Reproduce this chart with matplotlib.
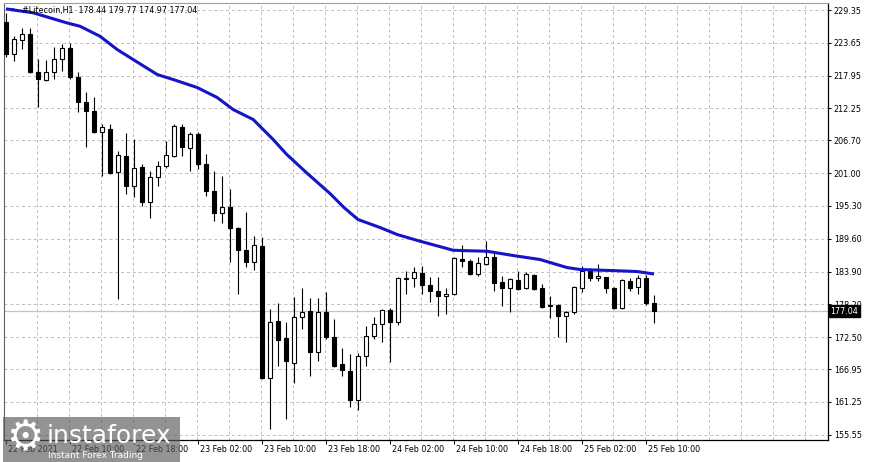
import matplotlib
matplotlib.use("Agg")
import matplotlib.pyplot as plt
import matplotlib.transforms as mtransforms
from matplotlib.patches import Rectangle
import numpy as np

# Litecoin H1 candles (oldest first)
opens = [227.26, 221.70, 224.14, 225.18, 218.57, 217.27, 218.57, 220.83, 222.75, 217.71,
         213.36, 211.80, 208.15, 208.67, 201.20, 203.98, 198.76, 202.06, 195.98, 200.33,
         202.24, 203.98, 209.02, 205.37, 207.80, 202.59, 197.89, 194.07, 195.11, 191.46,
         187.64, 185.56, 188.34, 165.40, 175.30, 172.35, 168.00, 176.00, 177.04, 169.92,
         176.87, 172.52, 167.83, 166.61, 161.57, 169.22, 172.70, 174.78, 177.21, 175.13,
         182.60, 182.78, 183.64, 181.56, 180.52, 179.65, 179.99, 186.08, 185.73, 183.47,
         185.21, 186.42, 182.08, 181.04, 182.43, 181.04, 183.30, 181.04, 177.91, 178.08,
         176.17, 176.88, 181.09, 184.01, 182.85, 183.02, 181.09, 177.59, 182.25, 181.27,
         182.72, 178.44]
highs = [228.83, 224.83, 226.22, 226.22, 220.83, 220.66, 222.92, 223.44, 223.61, 218.57,
         215.10, 214.23, 209.54, 209.54, 204.85, 207.97, 206.93, 202.59, 201.37, 203.11,
         206.58, 209.54, 209.54, 208.15, 208.15, 204.32, 201.37, 200.50, 198.24, 191.64,
         194.24, 190.07, 189.90, 177.39, 178.43, 175.13, 179.47, 181.04, 179.30, 179.30,
         180.34, 175.65, 170.61, 169.57, 169.74, 174.43, 176.00, 177.39, 177.56, 182.90,
         183.99, 184.69, 184.86, 182.95, 182.95, 181.04, 186.42, 188.51, 186.08, 186.42,
         189.21, 187.29, 183.12, 182.78, 183.99, 183.82, 183.47, 181.73, 179.65, 178.26,
         177.04, 181.44, 184.78, 184.48, 185.18, 183.02, 181.27, 182.60, 182.72, 183.30,
         183.30, 179.77]
lows = [221.18, 220.49, 222.57, 218.40, 212.49, 217.01, 217.36, 218.75, 217.36, 211.62,
        205.54, 207.97, 200.50, 200.85, 179.13, 197.37, 196.85, 195.29, 193.20, 198.76,
        201.89, 203.80, 203.98, 201.37, 201.72, 197.03, 192.68, 192.33, 185.56, 179.99,
        184.69, 184.17, 165.22, 156.53, 167.48, 158.27, 164.53, 173.91, 165.75, 168.35,
        172.17, 167.31, 165.75, 160.36, 159.84, 167.48, 172.17, 171.65, 168.18, 174.61,
        179.99, 181.21, 179.99, 178.60, 176.17, 176.52, 179.82, 184.69, 183.30, 183.12,
        185.04, 180.52, 177.91, 176.87, 180.69, 180.86, 180.69, 177.56, 175.82, 172.52,
        171.65, 176.59, 180.39, 182.25, 182.25, 180.09, 177.34, 177.46, 180.50, 179.92,
        178.16, 174.97]
closes = [221.70, 224.31, 225.18, 218.57, 217.36, 218.57, 220.83, 222.75, 217.71, 213.36,
          211.80, 208.15, 209.02, 201.02, 204.15, 198.76, 201.89, 195.98, 200.33, 202.24,
          204.15, 209.19, 205.54, 207.80, 202.59, 197.89, 194.07, 195.11, 191.46, 187.64,
          185.56, 188.51, 165.40, 175.13, 172.00, 168.35, 176.00, 176.87, 169.92, 176.87,
          172.52, 167.48, 166.79, 161.57, 169.22, 172.70, 174.78, 177.21, 175.13, 182.78,
          182.78, 183.82, 181.56, 180.52, 179.65, 179.99, 186.25, 185.73, 183.47, 185.38,
          186.42, 181.91, 181.04, 182.60, 180.86, 183.47, 180.86, 177.74, 178.08, 176.17,
          176.87, 181.27, 184.01, 182.72, 183.20, 180.97, 177.59, 182.43, 180.97, 182.72,
          178.44, 177.04]

# moving average (blue line), read at these bar positions
ma_idx = [0, 3.4, 7.6, 9.25, 11.75, 13.9, 15.9, 18.9, 20.9, 23.9, 26.4, 28.4, 30.9,
          33.4, 35.1, 37.75, 40.5, 42.25, 44, 46.75, 48.9, 51.75, 55.9, 58, 60.1, 63.4,
          66.75, 70.1, 71.75, 75.5, 78.9, 81]
ma_vals = [229.55, 228.86, 227.12, 226.53, 224.79, 222.48, 220.74, 218.14, 217.27, 215.88,
           214.14, 212.05, 210.32, 206.84, 204.24, 200.84, 197.46, 195.02, 192.94, 191.55,
           190.33, 189.17, 187.60, 187.50, 187.43, 186.68, 185.99, 184.60, 184.25, 184.08,
           183.90, 183.47]

last_price = 177.04
header = "#Litecoin,H1  178.44 179.77 174.97 177.04"

price_ticks = [229.35, 223.65, 217.95, 212.25, 206.70, 201.00, 195.30,
               189.60, 183.90, 178.20, 172.50, 166.95, 161.25, 155.55]
time_idx = [0, 8, 16, 24, 32, 40, 48, 56, 64, 72, 80]
time_labels = ["22 Feb 2021", "22 Feb 10:00", "22 Feb 18:00", "23 Feb 02:00",
               "23 Feb 10:00", "23 Feb 18:00", "24 Feb 02:00", "24 Feb 10:00",
               "24 Feb 18:00", "25 Feb 02:00", "25 Feb 10:00"]

plt.rcParams['font.family'] = ['DejaVu Sans']
fs = 5.8

fig = plt.figure(figsize=(8.72, 4.62), dpi=100)
ax = fig.add_axes([4/872, 22/462, 824/872, 437/462])

o = np.array(opens)
h = np.array(highs)
l = np.array(lows)
c = np.array(closes)
x = np.arange(len(o))
up = c >= o

# grid
grid_style = dict(color='#bcbcbc', lw=0.7, linestyle=(0, (3, 3)), zorder=0)
for gx in range(4, 104, 4):
    ax.axvline(gx - 0.1, **grid_style)
for gy in price_ticks:
    ax.axhline(gy, **grid_style)

ax.axhline(last_price, color='#c4c4c4', lw=0.9, zorder=1)

# candles
ax.vlines(x, l, h, color='black', lw=0.8, zorder=3)
body_bottom = np.minimum(o, c)
body_h = np.maximum(np.abs(c - o), 0.12)
ax.bar(x, body_h, bottom=body_bottom, width=0.62,
       color=np.where(up, 'white', 'black'), edgecolor='black', linewidth=0.8, zorder=4)

ax.plot(ma_idx, ma_vals, color='#1414c8', lw=2.2, solid_capstyle='butt',
        solid_joinstyle='round', zorder=5)

ax.set_xlim(-0.25, 102.75)
ax.set_ylim(154.62, 230.57)

ax.yaxis.tick_right()
ax.set_yticks(price_ticks)
ax.set_yticklabels([f"{v:.2f}" for v in price_ticks])
ax.tick_params(axis='y', direction='out', length=2.2, width=0.7, pad=2, labelsize=fs)

ax.set_xticks(time_idx)
ax.set_xticklabels(time_labels)
ax.tick_params(axis='x', direction='out', length=3, width=0.7, pad=0.5, labelsize=fs)
offset = mtransforms.ScaledTranslation(2/100, 0, fig.dpi_scale_trans)
for lab in ax.get_xticklabels():
    lab.set_ha('left')
    lab.set_transform(lab.get_transform() + offset)

for side in ['right', 'bottom']:
    ax.spines[side].set_color('black')
    ax.spines[side].set_linewidth(0.9)
ax.spines['left'].set_color('#606060')
ax.spines['top'].set_color('#a0a0a0')

# current price box
ax.text(1.003, last_price, f"{last_price:.2f}", transform=ax.get_yaxis_transform(),
        color='white', fontsize=fs, va='center', ha='left', zorder=10,
        bbox=dict(boxstyle='square,pad=0.22', fc='black', ec='black'))

# header
ax.text(7/824, 1 - 7/437, "\u25be", transform=ax.transAxes, fontsize=5, va='center', ha='left')
ax.text(18/824, 1 - 7/437, header, transform=ax.transAxes, fontsize=fs, va='center', ha='left',
        zorder=10)

# watermark
fig.patches.append(Rectangle((3/872, 0), 177/872, 45/462, transform=fig.transFigure,
                             fc='#5a5a5a', ec='none', alpha=0.65, zorder=20))
fig.text(25/872, (462-438)/462, "\u2699", color='white', fontsize=30, ha='center', va='center',
         zorder=21)
fig.text(47/872, (462-443)/462, "instaforex", color='white', fontsize=18, ha='left',
         va='baseline', zorder=21)
fig.text(48/872, (462-455)/462, "Instant Forex Trading", color='white', fontsize=6.5,
         ha='left', va='center', zorder=21)

fig.savefig("out.png", dpi=100)
